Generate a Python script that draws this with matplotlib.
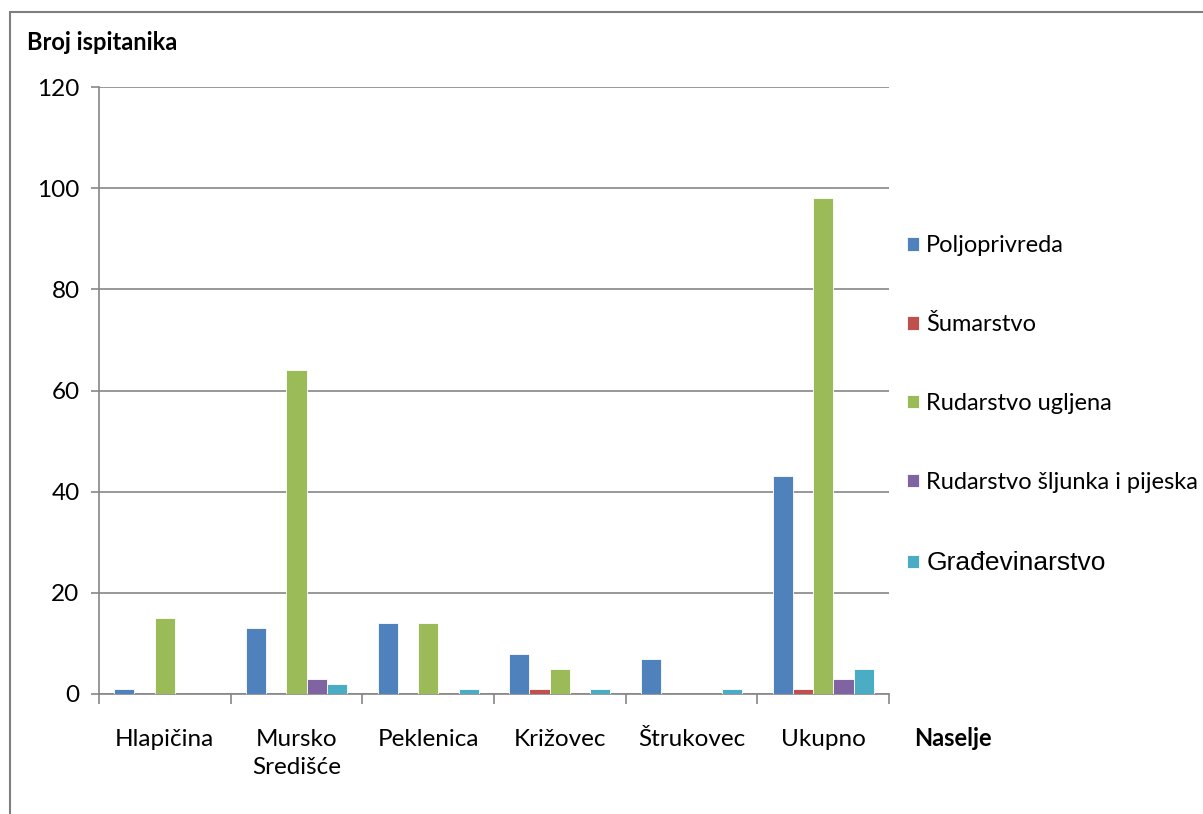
import matplotlib.pyplot as plt
import matplotlib.patches as patches
import numpy as np

# data
naselja = ['Hlapičina', 'Mursko\nSredišće', 'Peklenica', 'Križovec', 'Štrukovec', 'Ukupno']
djelatnosti = ['Poljoprivreda', 'Šumarstvo', 'Rudarstvo ugljena',
               'Rudarstvo šljunka i pijeska', 'Građevinarstvo']
poljoprivreda = [1, 13, 14, 8, 7, 43]
sumarstvo = [0, 0, 0, 1, 0, 1]
rudarstvo_ugljena = [15, 64, 14, 5, 0, 98]
rudarstvo_sljunka = [0, 3, 0, 0, 0, 3]
gradevinarstvo = [0, 2, 1, 1, 1, 5]
boje = ['#4f81bd', '#c0504d', '#9bbb59', '#8064a2', '#4bacc6']

serije = [poljoprivreda, sumarstvo, rudarstvo_ugljena, rudarstvo_sljunka, gradevinarstvo]

W, H = 1203, 814
fig = plt.figure(figsize=(W / 100, H / 100), dpi=100)
ax = fig.add_axes([99 / W, 1 - 694 / H, (889 - 99) / W, (694 - 87) / H])

font = 'Lato'
grey = '#868686'
fs = 17.5

x = np.arange(len(naselja))
bw = 1 / 6.5
for i, (vals, lab, c) in enumerate(zip(serije, djelatnosti, boje)):
    ax.bar(x - 2 * bw + i * bw, vals, width=bw, color=c, label=lab,
           edgecolor='white', linewidth=0.6, zorder=3)

ax.set_xlim(-0.5, len(naselja) - 0.5)
ax.set_ylim(0, 120)
ax.set_yticks(range(0, 121, 20))
ax.yaxis.grid(True, color=grey, linewidth=1.2, zorder=0)
for s in ['top', 'right']:
    ax.spines[s].set_visible(False)
for s in ['left', 'bottom']:
    ax.spines[s].set_color(grey)
    ax.spines[s].set_linewidth(1.2)

ax.set_xticks(x)
ax.set_xticklabels(naselja, fontsize=fs, family=font, va='top', linespacing=1.45)
ax.tick_params(axis='x', length=0, pad=25)
ax.set_xticks(np.arange(-0.5, len(naselja), 1), minor=True)
ax.tick_params(axis='x', which='minor', length=7, color=grey, width=1.2)
ax.tick_params(axis='y', length=6, color=grey, width=1.2, labelsize=fs, pad=8)
for t in ax.get_yticklabels():
    t.set_family(font)

fig.text(27 / W, 1 - 43 / H, 'Broj ispitanika', fontsize=17, fontweight='bold',
         family=font, va='center', ha='left')
fig.text(914 / W, 1 - 738 / H, 'Naselje', fontsize=17, fontweight='bold',
         family=font, va='center', ha='left')

leg = ax.legend(loc='upper left', bbox_to_anchor=(898 / W, 1 - 226 / H),
                bbox_transform=fig.transFigure, frameon=False,
                prop={'family': font, 'size': 17}, labelspacing=2.45,
                handlelength=0.5, handleheight=0.5, handletextpad=0.3,
                borderaxespad=0)
leg.get_texts()[-1].set_family('Liberation Sans')
leg.get_texts()[-1].set_fontsize(19)

# outer chart frame
fig.patches.append(patches.Rectangle((10 / W, -0.05), 1.5, (H - 12) / H + 0.05,
                                     transform=fig.transFigure, fill=False,
                                     edgecolor='#7f7f7f', linewidth=1.5))

fig.savefig('out.png', dpi=100)
